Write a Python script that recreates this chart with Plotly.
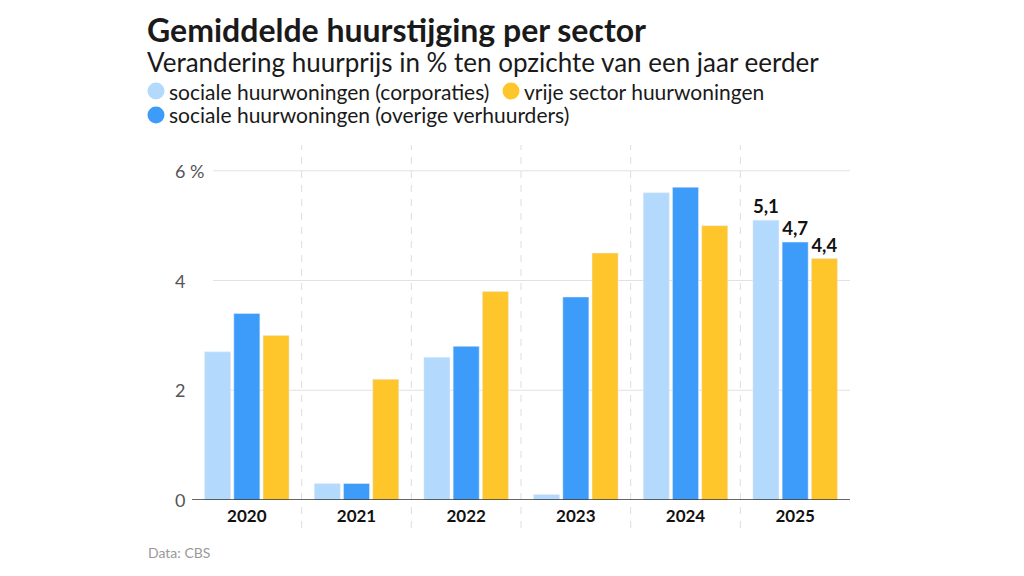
import plotly.graph_objects as go

years = ["2020", "2021", "2022", "2023", "2024", "2025"]
series_names = [
    "sociale huurwoningen (corporaties)",
    "sociale huurwoningen (overige verhuurders)",
    "vrije sector huurwoningen",
]
corporaties = [2.7, 0.3, 2.6, 0.1, 5.6, 5.1]
overige = [3.4, 0.3, 2.8, 3.7, 5.7, 4.7]
vrije_sector = [3.0, 2.2, 3.8, 4.5, 5.0, 4.4]
y_ticks = [0, 2, 4, 6]
y_tick_labels = ["0", "2", "4", "6 %"]

colors = ["#b3dafc", "#3d9bf9", "#fec62b"]
series = [corporaties, overige, vrije_sector]

FONT = "Lato"

PL, PR, PT, PB = 192, 174, 145, 76
W, HH = 1024, 576
H = HH - PT - PB
PW = W - PL - PR
ymax = 6.47


def py(pix):
    return (HH - PB - pix) / H


def px(pix):
    return (pix - PL) / PW


fig = go.Figure()
for name, vals, col in zip(series_names, series, colors):
    labels = ["" for _ in vals[:-1]] + [f"{vals[-1]:.1f}".replace(".", ",")]
    fig.add_trace(go.Bar(
        x=years, y=vals, name=name, marker_color=col, showlegend=False,
        text=labels, textposition="outside", cliponaxis=False,
        textfont=dict(family=FONT, size=20, color="#111111", weight="bold"),
        hoverinfo="x+y",
    ))

shapes = []
# horizontal gridlines (inset from the left like the reference)
for v in y_ticks[1:]:
    shapes.append(dict(type="line", xref="paper", yref="y", x0=px(213), x1=1.0, y0=v, y1=v,
                       line=dict(color="#e2e2e2", width=1), layer="below"))
# dashed category dividers
for i in range(len(years) - 1):
    shapes.append(dict(type="line", xref="x", yref="paper", x0=i + 0.5, x1=i + 0.5,
                       y0=py(528), y1=1.0, line=dict(color="#e0dcdc", width=1, dash="7px,7px"),
                       layer="below"))
# baseline
shapes.append(dict(type="line", xref="paper", yref="y", x0=0, x1=1.0, y0=0, y1=0,
                   line=dict(color="#333333", width=1.5)))

annotations = [
    dict(text="<b>Gemiddelde huurstijging per sector</b>", xref="paper", yref="paper",
         x=px(145), y=py(29), xanchor="left", yanchor="middle", showarrow=False,
         font=dict(family=FONT, size=32, color="#1a1a1a")),
    dict(text="Verandering huurprijs in % ten opzichte van een jaar eerder", xref="paper",
         yref="paper", x=px(145), y=py(62), xanchor="left", yanchor="middle", showarrow=False,
         font=dict(family=FONT, size=26, color="#1a1a1a")),
    dict(text="Data: CBS", xref="paper", yref="paper", x=px(146), y=py(552), xanchor="left",
         yanchor="middle", showarrow=False, font=dict(family=FONT, size=14, color="#999999")),
]
for v, t in zip(y_ticks, y_tick_labels):
    annotations.append(dict(text=t, xref="paper", yref="y", x=px(173), y=v, xanchor="left",
                            yanchor="middle", showarrow=False,
                            font=dict(family=FONT, size=18, color="#555555")))

# legend drawn as circles + labels: (series index, circle centre x, centre y)
legend_slots = [(0, 156, 91), (2, 511, 91), (1, 156, 115)]
for idx, cx, cy in legend_slots:
    shapes.append(dict(type="circle", xref="paper", yref="paper", xsizemode="pixel",
                       ysizemode="pixel", xanchor=px(cx), yanchor=py(cy),
                       x0=-8.5, x1=8.5, y0=-8.5, y1=8.5,
                       fillcolor=colors[idx], line=dict(width=0)))
    annotations.append(dict(text=series_names[idx], xref="paper", yref="paper",
                            x=px(cx + 11), y=py(cy), xanchor="left", yanchor="middle",
                            showarrow=False,
                            font=dict(family=FONT, size=21, color="#1a1a1a")))

fig.update_layout(
    width=W, height=HH,
    margin=dict(l=PL, r=PR, t=PT, b=PB),
    paper_bgcolor="white", plot_bgcolor="white",
    barmode="group", bargap=0.2, bargroupgap=0.11,
    font=dict(family=FONT, color="#1a1a1a"),
    showlegend=False,
    xaxis=dict(type="category", range=[-0.5, 5.5], showgrid=False, zeroline=False,
               showline=False, ticks="", tickfont=dict(family=FONT, size=17, color="#111111",
                                                       weight="bold"), ticklabelstandoff=4),
    yaxis=dict(range=[0, ymax], tickvals=y_ticks, showticklabels=False, showgrid=False,
               zeroline=False, showline=False, fixedrange=True),
    shapes=shapes, annotations=annotations,
)

fig.write_html("out.html", config={"displayModeBar": False},
               post_script="document.body.style.margin='0px';")
